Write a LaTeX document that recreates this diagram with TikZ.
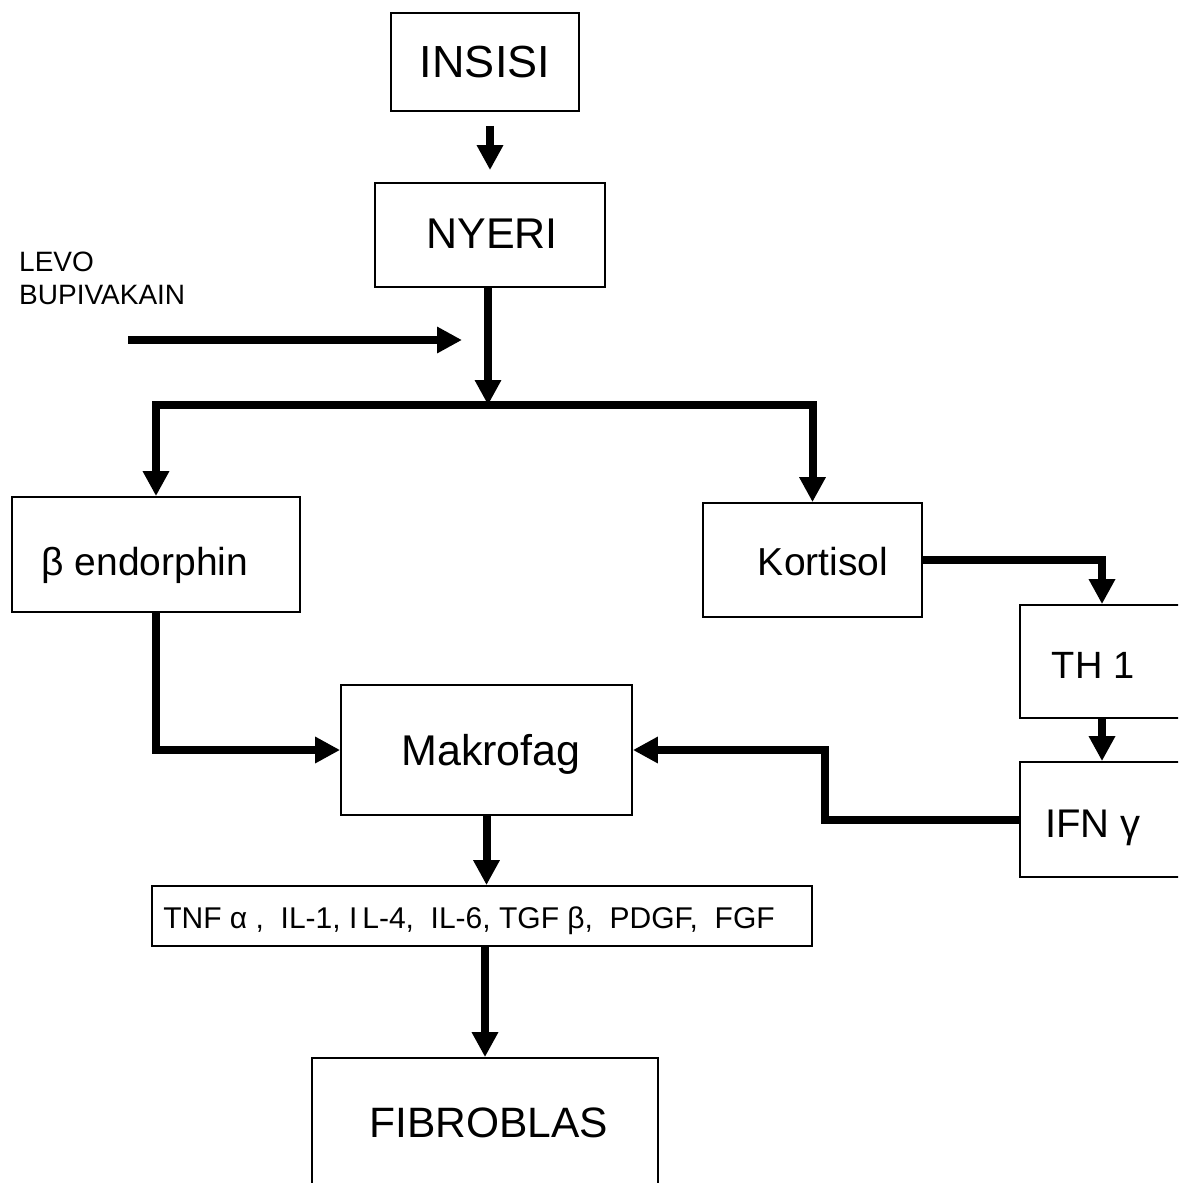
\documentclass[tikz,border=0pt]{standalone}
\usepackage{fontspec}
\setmainfont{Liberation Sans}
\usetikzlibrary{arrows.meta,calc}

\tikzset{
  box/.style={draw=black, line width=1.8pt, fill=white, inner sep=0pt},
  lbl/.style={inner sep=0pt, anchor=base, font=\fontsize{#1}{#1}\selectfont},
  conn/.style={draw=black, line width=8pt, line join=miter,
               -{Triangle[length=25pt,width=25pt]}}
}

\begin{document}
\begin{tikzpicture}[x=1pt,y=-1pt]
  % page frame
  \path[use as bounding box, fill=white] (0,0) rectangle (1178,1183);
  \clip (0,0) rectangle (1178,1183);

  % boxes
  \node[box, minimum width=188pt, minimum height=98pt]  (insisi)   at (485,62)     {};
  \node[box, minimum width=230pt, minimum height=104pt] (nyeri)    at (490,235)    {};
  \node[box, minimum width=288pt, minimum height=115pt] (bendo)    at (156,554.5)  {};
  \node[box, minimum width=219pt, minimum height=114pt] (kortisol) at (812.5,560) {};
  \node[box, minimum width=164pt, minimum height=113pt] (th1)      at (1102,661.5) {};
  \node[box, minimum width=164pt, minimum height=115pt] (ifn)      at (1102,819.5) {};
  \node[box, minimum width=291pt, minimum height=130pt] (makrofag) at (486.5,750)  {};
  \node[box, minimum width=660pt, minimum height=60pt]  (cyto)     at (482,916)    {};
  \node[box, minimum width=346pt, minimum height=142pt] (fibro)    at (485,1129)   {};

  % labels
  \node[lbl=45] (insisi-t)   at (485,77)    {INSISI};
  \node[lbl=43] (nyeri-t)    at (492,248)   {NYERI};
  \node[lbl=39] (bendo-t)    at (145,575)   {β endorphin};
  \node[lbl=39] (kortisol-t) at (823,575)   {Kortisol};
  \node[lbl=38] (th1-t)      at (1093,678)  {TH 1};
  \node[lbl=40] (ifn-t)      at (1093,837)  {IFN γ};
  \node[lbl=43] (makrofag-t) at (491,765)   {Makrofag};
  \node[lbl=30] (cyto-t)     at (469,928)
    {TNF α\ ,\ \ IL-1, I\,L-4,\ \ IL-6, TGF β,\ \ PDGF,\ \ FGF};
  \node[lbl=42.5] (fibro-t)  at (489,1137)  {FIBROBLAS};
  \node[inner sep=0pt, anchor=base west, align=left,
        font=\fontsize{28}{33}\selectfont] (levo-t) at (19,304)
    {LEVO\\BUPIVAKAIN};

  % helper points
  \coordinate (J)     at (488,405);
  \coordinate (lvS)   at (128,340);
  \coordinate (lvE)   at (462,340);
  \coordinate (kinkR) at (825,0);

  % connectors
  \draw[conn, shorten <=14pt, shorten >=12pt]
    (nyeri.north |- insisi.south) -- (nyeri.north);
  \draw[conn] (lvS) -- (lvE);
  \draw[conn] (nyeri.south -| J) -- (J);
  \draw[conn] (J) -| (bendo.north);
  \draw[conn] (J) -| (kortisol.north);
  \draw[conn] (kortisol.east) -| (th1.north);
  \draw[conn] (th1.south) -- (ifn.north);
  \draw[conn] (ifn.west) -- (ifn.west -| kinkR) |- (makrofag.east);
  \draw[conn] (bendo.south) |- (makrofag.west);
  \draw[conn] (makrofag.south) -- (makrofag.south |- cyto.north);
  \draw[conn] (cyto.south -| fibro.north) -- (fibro.north);
\end{tikzpicture}
\end{document}
